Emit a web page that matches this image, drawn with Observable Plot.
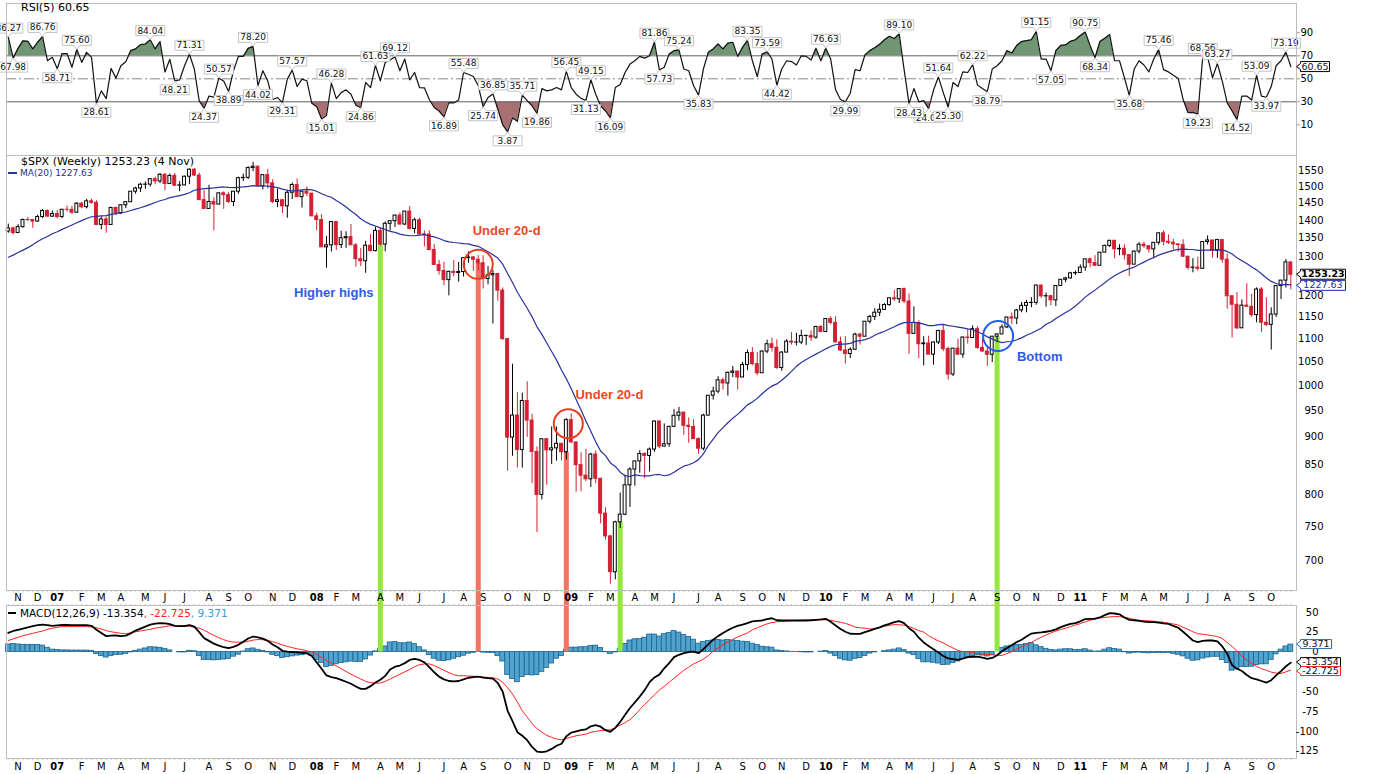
<!DOCTYPE html>
<html><head><meta charset="utf-8">
<script src="https://cdn.jsdelivr.net/npm/d3@7"></script>
<script src="https://cdn.jsdelivr.net/npm/@observablehq/plot@0.6"></script>
<style>
body{margin:0;background:#fff;overflow:hidden}
#wrap{position:relative;width:1373px;height:774px;font-family:"DejaVu Sans",Verdana,sans-serif}
.panel{position:absolute;left:0}
.hdr{position:absolute;white-space:nowrap;line-height:12px;color:#000}
.dash{position:absolute;height:2px}
</style></head><body><div id="wrap"></div>
<script>
// ---------- data (weekly $SPX, 27 Oct 2006 .. 4 Nov 2011) ----------
const firstWeek = "2006-10-27";
const open = [
1368.6,1377.3,1364.3,1380.9,1401.2,1400.9,1396.7,1409.8,1427.1,1410.8,
1418.3,1409.7,1430.7,1430.5,1422.2,1448.4,1438.1,1455.5,1451.2,1387.2,
1402.8,1387.0,1436.1,1420.9,1443.8,1452.9,1484.4,1494.1,1505.6,1505.9,
1522.8,1515.7,1536.3,1507.7,1532.9,1502.6,1503.4,1530.4,1552.5,1534.1,
1459.0,1433.1,1453.6,1445.9,1479.4,1474.0,1453.6,1484.3,1525.8,1526.8,
1557.6,1561.8,1500.6,1535.3,1509.7,1453.7,1458.7,1440.7,1481.1,1504.7,
1468.0,1484.5,1478.5,1411.6,1401.0,1325.2,1330.6,1395.4,1331.3,1350.0,
1353.1,1330.6,1293.4,1288.1,1329.5,1315.2,1370.4,1332.8,1390.3,1397.8,
1413.9,1388.3,1425.4,1375.9,1400.4,1360.7,1360.0,1317.9,1278.4,1262.9,
1239.5,1260.7,1257.8,1260.3,1296.3,1298.2,1292.2,1282.8,1242.3,1251.7,
1255.1,1213.3,1099.2,899.2,940.6,876.8,968.8,931.0,873.3,800.0,
896.2,876.1,879.7,887.9,872.8,931.8,890.4,850.1,832.0,825.9,
868.6,826.8,770.1,735.1,683.4,756.6,768.5,815.9,842.5,856.6,
869.6,866.2,877.5,929.2,882.9,887.0,919.1,940.1,946.2,921.2,
918.9,896.4,879.1,940.4,979.3,987.5,1010.5,1004.1,1026.1,1028.9,
1016.4,1042.7,1068.3,1044.4,1025.2,1071.5,1087.7,1079.6,1036.2,1069.3,
1093.5,1091.4,1091.5,1106.0,1106.4,1102.5,1126.5,1115.1,1145.0,1136.0,
1091.8,1073.9,1066.2,1075.5,1109.2,1104.5,1138.7,1150.0,1159.9,1166.6,
1178.1,1194.4,1192.1,1217.3,1186.7,1110.9,1135.7,1087.7,1089.4,1064.9,
1091.6,1117.5,1076.8,1022.6,1078.0,1064.9,1102.7,1101.6,1121.6,1079.3,
1071.7,1064.6,1104.5,1109.6,1125.6,1148.7,1146.2,1165.2,1176.2,1183.1,
1183.3,1225.9,1199.2,1199.7,1189.4,1224.7,1240.4,1243.9,1256.8,1257.6,
1271.5,1293.2,1283.4,1276.3,1310.9,1329.2,1343.0,1319.9,1321.2,1304.3,
1279.2,1313.8,1332.4,1328.2,1319.7,1337.4,1363.6,1340.2,1337.8,1333.3,
1331.1,1300.2,1271.0,1271.5,1268.5,1339.7,1343.8,1316.1,1345.0,1292.3,
1199.4,1178.8,1123.5,1176.8,1174.0,1154.2,1216.0,1136.4,1131.4,1155.5,
1224.6,1238.3,1285.1];
const high = [
1389.5,1381.0,1388.0,1403.8,1407.9,1402.0,1415.0,1431.6,1430.0,1427.0,
1429.4,1431.6,1441.6,1440.7,1452.0,1453.0,1461.6,1461.6,1457.0,1410.2,
1409.6,1437.8,1437.8,1445.0,1453.0,1484.7,1498.0,1510.3,1513.8,1522.8,
1529.4,1540.6,1540.0,1538.7,1540.6,1515.0,1532.4,1555.1,1555.9,1541.7,
1488.3,1503.9,1466.3,1479.9,1484.0,1481.5,1485.0,1529.0,1538.7,1561.8,
1576.1,1563.9,1535.5,1552.8,1521.0,1492.1,1460.6,1488.9,1510.6,1523.6,
1485.4,1498.8,1478.5,1420.5,1416.4,1355.2,1396.0,1396.0,1369.2,1367.9,
1388.3,1335.5,1321.7,1341.5,1359.7,1380.9,1378.7,1395.9,1399.1,1415.0,
1421.6,1425.8,1440.2,1406.3,1406.3,1370.3,1370.6,1333.2,1290.5,1285.7,
1262.3,1290.0,1285.0,1297.9,1313.2,1300.7,1303.0,1303.0,1274.4,1265.1,
1255.1,1220.0,1099.3,1044.3,985.4,984.4,1007.5,943.0,882.3,896.3,
896.2,919.0,918.9,888.0,934.7,943.9,890.4,871.7,877.9,870.8,
875.0,827.0,779.4,737.0,758.3,803.0,833.0,845.6,856.9,875.6,
871.8,880.4,930.2,930.2,924.6,920.0,951.7,956.2,946.4,935.9,
932.9,898.7,943.0,979.8,996.7,1018.0,1015.0,1027.6,1039.5,1029.0,
1048.2,1074.8,1080.2,1069.6,1073.2,1096.6,1101.4,1097.3,1071.5,1097.6,
1113.7,1112.4,1119.1,1107.8,1117.7,1128.5,1130.4,1145.4,1150.4,1150.5,
1103.7,1104.7,1080.0,1112.4,1112.4,1139.0,1153.4,1169.2,1180.7,1181.4,
1194.7,1213.9,1217.3,1219.8,1205.1,1173.6,1141.1,1104.6,1105.7,1092.4,
1119.1,1131.2,1081.5,1078.2,1099.0,1103.7,1121.0,1129.2,1127.3,1100.1,
1081.5,1105.1,1110.9,1131.5,1148.9,1159.4,1167.7,1184.4,1189.4,1196.1,
1227.1,1227.1,1207.4,1200.5,1225.6,1240.4,1246.7,1259.4,1262.6,1278.2,
1293.2,1296.7,1302.7,1311.0,1330.8,1344.1,1344.0,1332.3,1332.3,1304.3,
1315.4,1337.9,1339.5,1328.2,1337.5,1364.6,1370.6,1359.4,1346.8,1334.0,
1345.8,1300.2,1295.0,1298.6,1341.0,1356.5,1344.0,1347.0,1346.1,1307.4,
1199.4,1208.5,1190.7,1230.7,1204.4,1220.1,1220.6,1195.9,1171.4,1224.6,
1239.0,1292.7,1285.1];
const low = [
1363.9,1360.0,1364.0,1378.0,1397.0,1377.8,1395.0,1405.0,1410.0,1408.0,
1404.0,1405.0,1424.0,1416.9,1420.5,1433.4,1433.0,1446.8,1384.8,1373.4,
1364.0,1386.9,1413.6,1416.4,1433.9,1452.8,1476.9,1482.0,1491.4,1498.8,
1505.2,1508.9,1487.3,1506.9,1500.8,1484.3,1503.0,1506.1,1530.6,1458.9,
1432.8,1433.0,1370.6,1445.9,1432.0,1449.0,1439.6,1476.5,1515.4,1522.0,
1546.7,1500.6,1489.6,1492.6,1448.6,1436.9,1419.7,1406.1,1460.7,1467.8,
1435.7,1469.6,1411.6,1370.6,1324.6,1270.1,1312.4,1316.8,1321.9,1322.4,
1330.6,1272.7,1274.3,1257.0,1312.2,1312.8,1328.8,1313.2,1370.2,1379.6,
1386.2,1384.9,1373.1,1362.3,1358.6,1326.4,1317.9,1278.2,1252.0,1225.4,
1200.4,1248.0,1234.4,1247.5,1282.9,1261.9,1263.2,1217.2,1227.5,1133.5,
1187.5,1096.0,839.8,865.8,845.3,845.0,899.7,818.7,741.0,792.0,
815.7,851.4,857.0,857.1,859.0,888.3,804.5,805.2,821.7,812.3,
818.4,754.3,729.6,666.8,672.9,747.0,766.9,779.8,814.5,836.3,
826.8,838.2,872.6,878.9,882.5,881.5,917.7,929.9,903.8,888.9,
896.4,869.3,875.3,940.0,970.5,983.2,990.6,978.5,1016.2,991.0,
1016.4,1030.6,1041.2,1020.2,1025.2,1066.9,1070.5,1033.4,1029.4,1069.3,
1085.7,1083.7,1086.8,1085.0,1093.8,1098.6,1114.8,1115.1,1131.4,1090.2,
1071.6,1044.5,1056.5,1075.5,1086.0,1104.5,1133.4,1141.7,1150.5,1165.9,
1175.0,1186.8,1181.6,1181.6,1065.8,1110.0,1055.9,1040.8,1064.9,1042.2,
1087.0,1071.2,1010.9,1018.4,1063.4,1056.9,1088.0,1101.6,1076.6,1069.6,
1040.0,1047.9,1091.2,1109.6,1122.8,1131.9,1131.9,1159.7,1159.7,1171.7,
1177.7,1194.1,1173.0,1176.5,1174.5,1224.6,1232.9,1242.5,1251.5,1257.6,
1262.2,1271.3,1275.1,1276.3,1310.9,1324.6,1294.3,1302.6,1291.3,1249.1,
1279.2,1307.7,1322.5,1309.5,1294.7,1330.8,1329.2,1332.9,1318.5,1311.8,
1297.9,1265.0,1258.1,1262.7,1267.2,1331.7,1295.9,1295.7,1282.9,1168.1,
1101.5,1121.1,1123.5,1173.5,1149.0,1136.2,1114.2,1127.4,1074.8,1148.7,
1191.5,1219.6,1215.4];
const close = [
1377.3,1364.3,1380.9,1401.2,1400.9,1396.7,1409.8,1427.1,1410.8,1418.3,
1409.7,1430.7,1430.5,1422.2,1448.4,1438.1,1455.5,1451.2,1387.2,1402.8,
1387.0,1436.1,1420.9,1443.8,1452.9,1484.4,1494.1,1505.6,1505.9,1522.8,
1515.7,1536.3,1507.7,1532.9,1502.6,1503.4,1530.4,1552.5,1534.1,1459.0,
1433.1,1453.6,1445.9,1479.4,1474.0,1453.6,1484.3,1525.8,1526.8,1557.6,
1561.8,1500.6,1535.3,1509.7,1453.7,1458.7,1440.7,1481.1,1504.7,1468.0,
1484.5,1478.5,1411.6,1401.0,1325.2,1330.6,1395.4,1331.3,1350.0,1353.1,
1330.6,1293.4,1288.1,1329.5,1315.2,1370.4,1332.8,1390.3,1397.8,1413.9,
1388.3,1425.4,1375.9,1400.4,1360.7,1360.0,1317.9,1278.4,1262.9,1239.5,
1260.7,1257.8,1260.3,1296.3,1298.2,1292.2,1282.8,1242.3,1251.7,1255.1,
1213.3,1099.2,899.2,940.6,876.8,968.8,931.0,873.3,800.0,896.2,
876.1,879.7,887.9,872.8,931.8,890.4,850.1,832.0,825.9,868.6,
826.8,770.1,735.1,683.4,756.6,768.5,815.9,842.5,856.6,869.6,
866.2,877.5,929.2,882.9,887.0,919.1,940.1,946.2,921.2,918.9,
896.4,879.1,940.4,979.3,987.5,1010.5,1004.1,1026.1,1028.9,1016.4,
1042.7,1068.3,1044.4,1025.2,1071.5,1087.7,1079.6,1036.2,1069.3,1093.5,
1091.4,1091.5,1106.0,1106.4,1102.5,1126.5,1115.1,1145.0,1136.0,1091.8,
1073.9,1066.2,1075.5,1109.2,1104.5,1138.7,1150.0,1159.9,1166.6,1178.1,
1194.4,1192.1,1217.3,1186.7,1110.9,1135.7,1087.7,1089.4,1064.9,1091.6,
1117.5,1076.8,1022.6,1078.0,1064.9,1102.7,1101.6,1121.6,1079.3,1071.7,
1064.6,1104.5,1109.6,1125.6,1148.7,1146.2,1165.2,1176.2,1183.1,1183.3,
1225.9,1199.2,1199.7,1189.4,1224.7,1240.4,1243.9,1256.8,1257.6,1271.5,
1293.2,1283.4,1276.3,1310.9,1329.2,1343.0,1319.9,1321.2,1304.3,1279.2,
1313.8,1332.4,1328.2,1319.7,1337.4,1363.6,1340.2,1337.8,1333.3,1331.1,
1300.2,1271.0,1271.5,1268.5,1339.7,1343.8,1316.1,1345.0,1292.3,1199.4,
1178.8,1123.5,1176.8,1174.0,1154.2,1216.0,1136.4,1131.4,1155.5,1224.6,
1238.3,1285.1,1253.23];
const ma20 = [
1298.7,1304.3,1311.1,1317.7,1324.4,1332.5,1341.0,1348.4,1355.0,1362.5,
1367.9,1374.7,1380.7,1386.9,1393.2,1399.4,1405.4,1410.4,1411.5,1413.2,
1413.7,1417.3,1419.3,1421.5,1424.1,1428.4,1432.6,1436.6,1441.3,1446.6,
1451.9,1457.1,1461.0,1466.5,1469.3,1472.5,1476.2,1481.3,1488.7,1491.5,
1493.8,1494.7,1495.9,1497.7,1498.7,1497.2,1496.7,1497.7,1498.8,1500.5,
1502.8,1501.1,1502.4,1501.3,1498.8,1496.6,1492.2,1488.6,1487.1,1487.6,
1490.1,1491.4,1489.7,1485.8,1478.3,1472.2,1467.7,1458.0,1449.1,1438.9,
1427.3,1416.9,1404.6,1395.6,1388.6,1384.2,1378.8,1374.2,1368.9,1366.2,
1361.4,1358.7,1356.9,1356.8,1358.6,1360.1,1356.2,1353.6,1349.2,1343.6,
1340.1,1338.3,1336.9,1335.2,1334.4,1330.5,1328.0,1320.6,1313.3,1305.3,
1296.6,1280.3,1256.4,1233.5,1209.3,1189.7,1170.4,1150.1,1127.0,1109.8,
1090.5,1071.6,1053.0,1031.9,1013.6,993.5,971.8,951.3,930.0,910.7,
891.4,875.0,866.8,853.9,847.9,837.9,832.1,830.6,833.5,832.2,
831.7,831.6,833.6,834.1,831.9,833.3,837.8,843.5,848.3,850.8,
854.2,859.7,869.9,884.7,896.3,908.4,917.8,926.9,935.5,942.8,
951.7,961.2,966.9,974.0,983.3,991.7,998.7,1003.2,1010.6,1019.4,
1029.1,1039.8,1048.1,1054.4,1060.2,1066.0,1071.5,1077.5,1082.8,1086.6,
1088.2,1088.1,1089.7,1093.9,1095.5,1098.1,1101.6,1107.8,1112.7,1116.9,
1122.0,1127.0,1132.6,1136.6,1137.0,1137.5,1136.1,1133.3,1129.8,1129.8,
1132.0,1132.5,1129.9,1128.3,1126.3,1124.5,1122.1,1120.2,1115.8,1110.5,
1104.1,1099.7,1094.4,1091.3,1093.2,1093.7,1097.6,1101.9,1107.8,1112.4,
1117.8,1123.9,1132.7,1138.3,1146.3,1153.1,1160.2,1167.0,1175.9,1185.9,
1197.3,1206.2,1214.5,1223.8,1232.8,1242.6,1250.4,1257.6,1263.7,1268.5,
1272.9,1279.5,1285.9,1292.5,1298.1,1304.3,1309.1,1313.1,1316.9,1319.8,
1320.2,1319.6,1319.4,1317.2,1317.8,1317.8,1317.6,1318.8,1318.2,1314.2,
1307.5,1297.1,1289.5,1282.2,1273.1,1265.7,1255.5,1245.1,1236.3,1231.0,
1227.9,1228.6,1227.63];
const rsi = [
86.27,67.98,76.5,83,82.6,76,81.8,86.76,65.7,68.7,
58.71,72,72,60,75.6,64.3,73,68.7,28.61,39.5,
32.8,59,50.6,61.4,64.9,74.5,76,79.7,80.3,84.04,
76,82.4,56,67,48.21,49,61.4,71.31,58.5,30.8,
24.37,35,34,50.57,48,38.89,57,69.5,69.5,76.5,
78.2,44.02,57,48,32,33.7,29.31,49.7,57.57,43.3,
49.7,48.3,28.7,25.8,15.01,18,46.28,32.8,38,40.4,
36.6,27,24.86,46.8,42.4,61.63,48.3,64.3,66.3,69.12,
57,67.2,49,55.5,42.4,42.2,32,25,22,16.89,
29.3,29,31.5,55.48,54,52,44,25.74,33.7,36.85,
23.5,10,3.87,16,13,35.71,31,26.4,19.86,41.5,
39.5,40.4,42.4,40.4,56.45,42.4,36.6,33,31.13,49.15,
36.6,26.4,22,16.09,42.4,45,55.5,62.8,65.7,69.5,
68,70,81.86,57.73,60,71.5,74.5,75.24,58.5,57,
44,35.83,58.5,73,76,80.3,76,81,81.8,69.5,
77.4,83.35,65.7,52,71.5,73.59,67.2,44.42,58.5,65.7,
65,62,70,69.5,66.3,76.5,65.7,76.63,67.2,40.4,
32,29.99,37.5,58,57,70.7,74.5,77,80,84,
87,85,89.1,58,28.43,41.5,30,31,24.06,40,
51.64,38,25.3,46.8,43.3,56,55.5,62.22,44.5,41.5,
38.79,58.5,61.4,65.7,74.5,72.4,79,82.4,83.2,84,
91.15,67.2,67.2,57.05,74.5,79,79.5,82.6,84,87.6,
90.75,79,68.34,82.4,85.3,88.5,65.7,65.7,51,35.68,
58.5,65.7,62,56,67.2,75.46,58,56,53,50.3,
32,20.5,20.8,19.23,68.56,69,51,63.27,48,29,
22,14.52,35,35,31.5,53.09,35,33.97,43.3,61.4,
65.7,73.19,60.65];
const macd = [
24,26.5,28,29.5,31,32.5,33.8,34.6,33.8,33,
33.5,34,34,33.8,33.8,33.8,33.8,33,28,24,
20,20.5,20.8,20,20.5,23.5,27,29.5,32,34.5,
35.8,36.3,36,35,33,32.5,32.5,34,32,25,
17.5,14,10.5,8,6,4.8,6.5,9,13,17,
19.5,18.5,16.8,14,9.5,6,1.5,0.5,0,-0.5,
-1,-1.5,-5,-13,-21,-29.5,-31.5,-33,-35,-37.5,
-40,-43.5,-46.4,-46.4,-43,-38.5,-35,-30,-22,-18.5,
-17,-14,-10,-8.6,-10,-13,-19,-25.5,-31,-34.5,
-36.5,-37,-36.5,-34.5,-32.4,-31.5,-30.9,-32.2,-33,-33.6,
-39,-50,-74,-87,-101,-105.5,-111,-119.5,-125.5,-126,
-125,-122,-118,-115.5,-106,-101.5,-100,-98.5,-97.5,-93.5,
-92,-94,-98.5,-100.5,-95.5,-88,-79,-70.5,-63.5,-56,
-48,-38,-32,-28.5,-20.5,-14,-6.5,-3.5,-1.5,0,
0.5,-1.5,3.5,9.5,15.5,20,24,27.5,30.5,33,
34.5,36.5,38.5,39.2,39.7,41.5,42.5,40,39.7,39.7,
39.7,39.7,39.7,39.7,40,40.5,41,41.8,38,33.4,
29,25.5,23,22.9,22.9,25,27,29,31,33.5,
35.5,37.5,38.8,36.3,30,25.5,18,12,7.5,3.5,
-0.5,-5,-8,-9,-9.9,-8.2,-6.5,-6,-5.7,-7,
-8.6,-7.5,-4,1,5,8.5,12.5,15.5,19.5,23.2,
24,24.6,25.5,26.5,28.5,31.3,33.5,35.5,36.5,38.5,
41.5,41.8,42,43.5,46.5,49,48.5,47.5,43.5,40.5,
40,39.3,38.2,37.6,37.6,37,36,35.3,33,30.5,
25.5,20,14.5,12.5,14,14.5,14.5,13.5,7,-2,
-16.5,-21,-24,-29,-33,-34.5,-36.5,-38.5,-35.5,-29.5,
-24,-18,-13.354];
const signal = [
14.5,16.5,18.5,20.5,22,23.5,25,26.5,28.5,30,
31,32,32,32,32,32,32,31.5,30.5,29,
27,25.5,24.5,23.5,23,24,25.5,26.5,27.5,28.5,
30,31,32,33,33,33,33,32.5,31,30,
27.5,24,21,18,15.5,13.5,12.4,12.4,12.4,13.5,
15,15.7,15.5,14.5,13,11,9,7,5.5,4,
3,1.5,0,-3,-7,-10.5,-14,-17.5,-21,-24.5,
-28,-31,-34,-37,-38.5,-39.3,-39,-37,-34,-31,
-28,-25,-22,-18.5,-16,-15,-15,-17,-20,-23,
-26,-28.5,-30,-29.8,-30.3,-30.5,-31,-31.5,-32,-32.4,
-34,-38,-45,-53,-63,-74,-82,-90,-96.5,-101,
-105,-107.5,-109.5,-110.5,-109,-107,-105.5,-104.5,-103.5,-101,
-100,-99,-98.2,-98,-95,-92,-89,-85,-79.5,-72.5,
-66,-60,-54,-48,-43,-38,-33,-28,-23,-19,
-15,-12,-9,-4.5,1,5,9.5,12.5,16,19,
21.5,24,28,30.5,33,35.5,37,38,38.5,39,
39.5,39.8,40,40.3,40.5,40.5,40.5,40.5,40,38.5,
37.5,36,34,31.5,30.5,30,29,29.5,31,32.5,
33.5,34.5,34.3,33.8,32,29.5,27,25,20.5,17,
14,11.5,8,5,2,0.5,0,-0.5,-2,-2.5,
-3,-3.5,-4,-4.3,-2,0.5,3.5,6.5,9.5,12,
15.5,18.5,21.5,24,26.5,28.3,30,32,34,35.8,
38,40,41.5,42.8,43.5,44.2,44.7,44.5,43.8,42.5,
41,40,39.5,39.3,38.8,38,37.5,36.3,35.3,34,
31,28.5,25.5,23,22.3,21.5,20.5,19.5,17,12,
7,1,-5,-10,-14.5,-18,-21,-23,-25.4,-26.5,
-27,-25,-22.725];

// RSI peak / trough value labels: [week index, label]
const rsiHighLabels = [[0,"86.27"],[7,"86.76"],[14,"75.60"],[29,"84.04"],[37,"71.31"],[43,"50.57"],[50,"78.20"],[58,"57.57"],[66,"46.28"],[75,"61.63"],[79,"69.12"],[93,"55.48"],[99,"36.85"],[105,"35.71"],[114,"56.45"],[119,"49.15"],[132,"81.86"],[137,"75.24"],[151,"83.35"],[155,"73.59"],[167,"76.63"],[182,"89.10"],[190,"51.64"],[197,"62.22"],[210,"91.15"],[220,"90.75"],[235,"75.46"],[244,"68.56"],[247,"63.27"],[255,"53.09"],[261,"73.19"]];
const rsiLowLabels = [[1,"67.98"],[10,"58.71"],[18,"28.61"],[34,"48.21"],[40,"24.37"],[45,"38.89"],[51,"44.02"],[56,"29.31"],[64,"15.01"],[72,"24.86"],[89,"16.89"],[97,"25.74"],[102,"3.87"],[108,"19.86"],[118,"31.13"],[123,"16.09"],[133,"57.73"],[141,"35.83"],[157,"44.42"],[171,"29.99"],[184,"28.43"],[188,"24.06"],[192,"25.30"],[200,"38.79"],[213,"57.05"],[222,"68.34"],[229,"35.68"],[243,"19.23"],[251,"14.52"],[257,"33.97"]];
const rsiCoveredLabels = [188, 244]; // labels partly hidden beneath their neighbours

const rsiTicks = [90, 70, 50, 30, 10];
const priceTicks = [700,750,800,850,900,950,1000,1050,1100,1150,1200,1300,1350,1400,1450,1500,1550];
const macdTicks = [50, 25, 0, -50, -75, -100, -125];
const monthLetters = ["J","F","M","A","M","J","J","A","S","O","N","D"];

const greenBars = [76, 125, 202];
const redBars = [96, 114];
const redCircles = [{i: 96, p: 1280}, {i: 114.4, p: 925}];
const blueCircles = [{i: 202.2, p: 1106}];
const redNotes = [{i: 101.8, p: 1371, text: "Under 20-d"}, {i: 122.8, p: 982, text: "Under 20-d"}];
const blueNotes = [{i: 66.5, p: 1208, text: "Higher highs"}, {i: 210.7, p: 1061, text: "Bottom"}];

// ---------- build ----------
const start = new Date(firstWeek + "T00:00:00Z");
const weeks = d3.utcFriday.range(start, d3.utcDay.offset(start, 7 * close.length));
const rows = close.map((c, i) => ({
  i, open: open[i], high: high[i], low: low[i], close: c, ma: ma20[i], rsi: rsi[i],
  macd: macd[i], signal: signal[i], hist: macd[i] - signal[i], up: c >= open[i]
}));
const monthTicks = [];
for (let k = 1; k < weeks.length; k++) {
  const m = d3.utcMonday.floor(weeks[k]), pm = d3.utcMonday.floor(weeks[k - 1]);
  if (m.getUTCMonth() !== pm.getUTCMonth()) {
    const mo = m.getUTCMonth();
    monthTicks.push({i: k, label: mo === 0 ? String(m.getUTCFullYear()).slice(2) : monthLetters[mo], year: mo === 0});
  }
}
const monthT = monthTicks.filter(d => !d.year), yearT = monthTicks.filter(d => d.year);
const toLab = arr => arr.map(([i, label]) => ({i, v: rsi[i], label}));
const isCovered = d => rsiCoveredLabels.includes(d.i);

const W = 1373, ML = 6, MR = 77;
const xDomain = [-0.37, 263.16];
const rsiDomain = [-16.7, 115.5];
const priceDomain = [658.4, 1598];
const macdDomain = [-134.1, 58.56];
const RED = "#d42032", NAVY = "#28329a", GREEN_BAR = "#92e840", RED_BAR = "#f07565";
const FONT = "DejaVu Sans, Verdana, sans-serif";
const YEARFONT = "Liberation Sans Narrow, DejaVu Sans Condensed, Arial Narrow, sans-serif";

// label boxes drawn as custom dot symbols (box + small pointer to the value)
const PTR = 4;
function boxSymbol(dir, h) {
  return {draw(c, size) {
    const w = Math.sqrt(size / Math.PI);
    if (dir === "up") {
      c.moveTo(-w / 2, -PTR - h); c.lineTo(w / 2, -PTR - h); c.lineTo(w / 2, -PTR); c.lineTo(3, -PTR);
      c.lineTo(0, 0); c.lineTo(-3, -PTR); c.lineTo(-w / 2, -PTR); c.closePath();
    } else if (dir === "down") {
      c.moveTo(-w / 2, PTR + h); c.lineTo(w / 2, PTR + h); c.lineTo(w / 2, PTR); c.lineTo(3, PTR);
      c.lineTo(0, 0); c.lineTo(-3, PTR); c.lineTo(-w / 2, PTR); c.closePath();
    } else {
      c.moveTo(0, 0); c.lineTo(PTR, -3); c.lineTo(PTR, -h / 2); c.lineTo(PTR + w, -h / 2);
      c.lineTo(PTR + w, h / 2); c.lineTo(PTR, h / 2); c.lineTo(PTR, 3); c.closePath();
    }
  }};
}
function labelMarks(data, dir, o) {
  const {w, h, fontSize, stroke, fontWeight = "normal", textFill = "#111", dy = 0} = o;
  const tdx = dir === "left" ? PTR + w / 2 : 0;
  const tdy = dir === "up" ? -(PTR + h / 2) : dir === "down" ? PTR + h / 2 : 0;
  return [
    Plot.dot(data, {x: "i", y: "v", symbol: boxSymbol(dir, h), r: w, fill: "white", stroke, strokeWidth: 1, dy}),
    Plot.text(data, {x: "i", y: "v", text: "label", dx: tdx, dy: tdy + dy, fontSize, fontWeight, fill: textFill})
  ];
}
const xOpt = {type: "linear", domain: xDomain, axis: null};
const styleOpt = {fontFamily: FONT, fontSize: "10px", background: "transparent", overflow: "hidden"};
const fmt = d => String(d);
const rsiLab = {w: 29, h: 10, fontSize: 9, stroke: "#c4c4c4"};
const rightX = xDomain[1];

// RSI panel
const hiLab = toLab(rsiHighLabels), loLab = toLab(rsiLowLabels);
const rsiPlot = Plot.plot({
  width: W, height: 156, marginLeft: ML, marginRight: MR, marginTop: 3, marginBottom: 1,
  x: xOpt, y: {type: "linear", domain: rsiDomain, axis: null}, style: styleOpt,
  marks: [
    Plot.areaY(rows, {x: "i", y1: 70, y2: "rsi", fill: "#709674"}),
    Plot.areaY(rows, {x: "i", y1: 30, y2: "rsi", fill: "#a87070"}),
    Plot.ruleY([70, 30], {stroke: "#666"}),
    Plot.ruleY([50], {stroke: "#888", strokeDasharray: "10,3,2,3"}),
    Plot.line(rows, {x: "i", y: "rsi", stroke: "#111", strokeWidth: 1.2}),
    labelMarks(hiLab.filter(isCovered), "up", rsiLab),
    labelMarks(loLab.filter(isCovered), "down", rsiLab),
    labelMarks(hiLab.filter(d => !isCovered(d)), "up", rsiLab),
    labelMarks(loLab.filter(d => !isCovered(d)), "down", rsiLab),
    Plot.frame({stroke: "#bdbdbd"}),
    Plot.axisY(rsiTicks, {anchor: "right", tickSize: 3, tickPadding: 1, fontSize: 10, stroke: "#999", tickFormat: fmt}),
    labelMarks([{i: rightX, v: rsi[rsi.length - 1], label: "60.65"}], "left", {w: 29, h: 10, fontSize: 9.5, stroke: "#000"})
  ]
});

// Price panel
const mainPlot = Plot.plot({
  width: W, height: 450, marginLeft: ML, marginRight: MR, marginTop: 0, marginBottom: 15,
  x: xOpt, y: {type: "log", domain: priceDomain, axis: null}, color: {type: "identity"}, style: styleOpt,
  marks: [
    Plot.ruleX(rows, {x: "i", y1: priceDomain[0], y2: priceDomain[0], insetBottom: -2, stroke: "#c8c8c8"}),
    Plot.ruleX(greenBars, {x: d => d, y1: d => Math.min(open[d], close[d]), y2: priceDomain[0], insetBottom: -15, stroke: GREEN_BAR, strokeWidth: 5}),
    Plot.ruleX(redBars, {x: d => d, y1: d => Math.min(open[d], close[d]), y2: priceDomain[0], insetBottom: -15, stroke: RED_BAR, strokeWidth: 5}),
    Plot.ruleX(rows, {x: "i", y1: "low", y2: "high", stroke: d => d.up ? "#000" : RED}),
    Plot.rect(rows, {x1: d => d.i - 0.3, x2: d => d.i + 0.3, y1: "open", y2: "close",
      fill: d => d.up ? "#fff" : RED, stroke: d => d.up ? "#000" : RED}),
    Plot.line(rows, {x: "i", y: "ma", stroke: NAVY, strokeWidth: 1.2}),
    Plot.dot(redCircles, {x: "i", y: "p", r: 14.5, stroke: "#e8401f", strokeWidth: 2, fill: "none"}),
    Plot.dot(blueCircles, {x: "i", y: "p", r: 15, stroke: "#1f5cf0", strokeWidth: 2, fill: "none"}),
    Plot.text(redNotes, {x: "i", y: "p", text: "text", fill: "#ef4722", fontSize: 13, fontWeight: "bold", fontFamily: "Liberation Sans, Arial, sans-serif"}),
    Plot.text(blueNotes, {x: "i", y: "p", text: "text", fill: "#2f5be6", fontSize: 13, fontWeight: "bold", fontFamily: "Liberation Sans, Arial, sans-serif"}),
    Plot.frame({stroke: "#bdbdbd"}),
    Plot.axisY(priceTicks, {anchor: "right", tickSize: 0, tickPadding: 0, textAnchor: "end", dx: 27, fontSize: 10, tickFormat: fmt}),
    Plot.text(monthT, {x: "i", text: "label", frameAnchor: "bottom", dy: 7, lineAnchor: "middle", fontSize: 10}),
    Plot.text(yearT, {x: "i", text: "label", frameAnchor: "bottom", dy: 7, lineAnchor: "middle", fontSize: 11, fontWeight: "bold", fontFamily: YEARFONT}),
    labelMarks([{i: rightX, v: 1253.23, label: "1253.23"}], "left", {w: 45, h: 10, fontSize: 9.5, fontWeight: "bold", stroke: "#000", textFill: "#000", dy: -0.5}),
    labelMarks([{i: rightX, v: 1227.63, label: "1227.63"}], "left", {w: 45, h: 10, fontSize: 9.5, stroke: "#1a2f9a", textFill: "#1a2f9a", dy: 0.5})
  ]
});

// MACD panel
const macdPlot = Plot.plot({
  width: W, height: 170, marginLeft: ML, marginRight: MR, marginTop: 1, marginBottom: 16,
  x: xOpt, y: {type: "linear", domain: macdDomain, axis: null}, style: styleOpt,
  marks: [
    Plot.ruleX(rows, {x: "i", y1: macdDomain[1], y2: macdDomain[1], insetTop: -2, stroke: "#c8c8c8"}),
    Plot.ruleX(rows, {x: "i", y1: macdDomain[0], y2: macdDomain[0], insetBottom: -2, stroke: "#c8c8c8"}),
    Plot.rect(rows, {x1: d => d.i - 0.5, x2: d => d.i + 0.5, y1: 0, y2: "hist", fill: "#50a2cf", stroke: "#1e648c", strokeWidth: 0.8}),
    Plot.ruleX(greenBars, {x: d => d, y1: macdDomain[1], y2: 0, insetTop: -1, stroke: GREEN_BAR, strokeWidth: 5}),
    Plot.ruleX(redBars, {x: d => d, y1: macdDomain[1], y2: 0, insetTop: -1, stroke: RED_BAR, strokeWidth: 5}),
    Plot.line(rows, {x: "i", y: "signal", stroke: "#ff2222", strokeWidth: 1}),
    Plot.line(rows, {x: "i", y: "macd", stroke: "#000", strokeWidth: 1.8}),
    Plot.frame({stroke: "#bdbdbd"}),
    Plot.axisY(macdTicks, {anchor: "right", tickSize: 0, tickPadding: 0, textAnchor: "end", dx: 22, fontSize: 10, tickFormat: fmt}),
    Plot.text(monthT, {x: "i", text: "label", frameAnchor: "bottom", dy: 8, lineAnchor: "middle", fontSize: 10}),
    Plot.text(yearT, {x: "i", text: "label", frameAnchor: "bottom", dy: 8, lineAnchor: "middle", fontSize: 11, fontWeight: "bold", fontFamily: YEARFONT}),
    labelMarks([{i: rightX, v: 9.371, label: "9.371"}], "left", {w: 31, h: 9, fontSize: 9.5, stroke: "#2a6fa8", dy: -0.5}),
    labelMarks([{i: rightX, v: -13.354, label: "-13.354"}], "left", {w: 40, h: 9, fontSize: 9.5, stroke: "#000", dy: -0.5}),
    labelMarks([{i: rightX, v: -22.725, label: "-22.725"}], "left", {w: 40, h: 9, fontSize: 9.5, stroke: "#ff2020", dy: 1})
  ]
});

// clip RSI fills: green only above 70, red only below 30
(function () {
  const ys = rsiPlot.scale("y");
  const y70 = ys.apply(70), y30 = ys.apply(30);
  const ns = "http://www.w3.org/2000/svg";
  const defs = document.createElementNS(ns, "defs");
  const mk = (id, y, h) => {
    const cp = document.createElementNS(ns, "clipPath"); cp.setAttribute("id", id);
    const r = document.createElementNS(ns, "rect");
    r.setAttribute("x", 0); r.setAttribute("y", y); r.setAttribute("width", W); r.setAttribute("height", h);
    cp.appendChild(r); defs.appendChild(cp);
  };
  mk("clipHi", 0, y70); mk("clipLo", y30, 200);
  rsiPlot.insertBefore(defs, rsiPlot.firstChild);
  const areas = rsiPlot.querySelectorAll('g[aria-label="area"]');
  if (areas[0]) areas[0].setAttribute("clip-path", "url(#clipHi)");
  if (areas[1]) areas[1].setAttribute("clip-path", "url(#clipLo)");
})();

const wrap = document.getElementById("wrap");
[[rsiPlot, 0], [mainPlot, 155], [macdPlot, 604]].forEach(([p, top]) => {
  p.classList.add("panel"); p.style.top = top + "px"; wrap.appendChild(p);
});
wrap.insertAdjacentHTML("beforeend", `
<div class="hdr" style="left:21px;top:2px;font-size:11px">RSI(5) 60.65</div>
<div class="hdr" style="left:21px;top:156px;font-size:11px">$SPX (Weekly) 1253.23 (4 Nov)</div>
<div class="dash" style="left:8px;top:172px;width:9px;background:${NAVY}"></div>
<div class="hdr" style="left:20px;top:167px;font-size:9px;color:${NAVY}">MA(20) 1227.63</div>
<div class="dash" style="left:8px;top:612px;width:8px;background:#000"></div>
<div class="hdr" style="left:20px;top:607px;font-size:10.5px"><span>MACD(12,26,9) -13.354</span><span style="color:#ff2020">, -22.725</span><span style="color:#3a9ad9">, 9.371</span></div>
`);
</script></body></html>
